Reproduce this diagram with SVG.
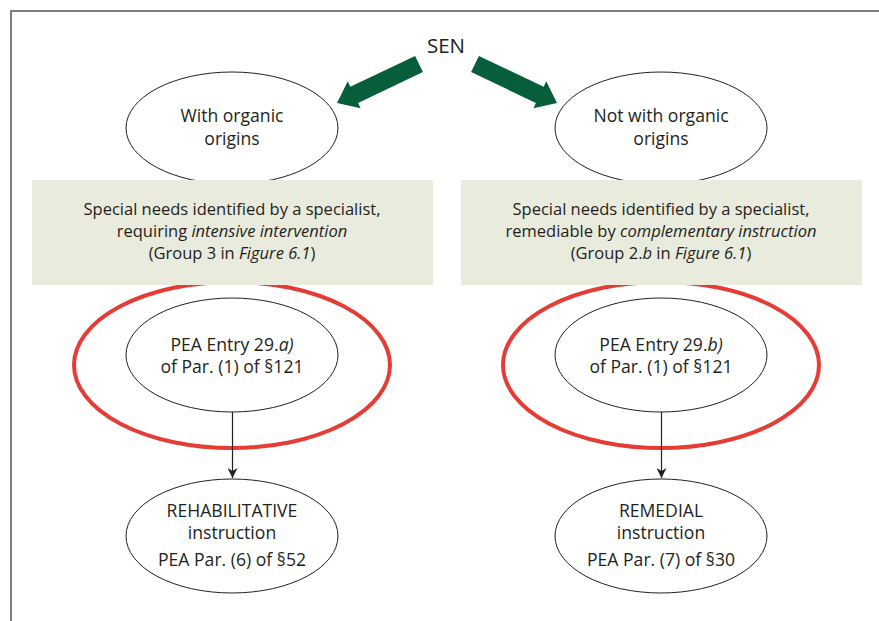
<svg xmlns="http://www.w3.org/2000/svg" width="879" height="621" viewBox="0 0 879 621">
<defs>
<style>
text{font-family:"Open Sans","Liberation Sans",sans-serif;fill:#231f20;text-anchor:middle}
.e{font-size:17.6px}
.b{font-size:16.5px}
.n{fill:#fff;stroke:#231f20;stroke-width:1}
.red{fill:none;stroke:#e63c36;stroke-width:4}
.box{fill:#e9ebdd}
.g{fill:#075e3b}
.c{stroke:#231f20;stroke-width:1.2;fill:none}
</style>
<marker id="ah" viewBox="0 0 10 10" refX="10" refY="5" markerWidth="10" markerHeight="10" markerUnits="userSpaceOnUse" orient="auto">
<path d="M0,0 L10,5 L0,10 L3,5 Z" fill="#231f20"/>
</marker>
</defs>
<rect width="879" height="621" fill="#fff"/>
<path d="M11,621 V11 H879" fill="none" stroke="#555" stroke-width="1.5"/>

<g id="sen"><text x="446" y="53" style="font-size:20.5px">SEN</text></g>

<g id="arrows-green">
<polygon class="g" points="415.1,55.9 350.3,86.7 347.8,81.3 337,103 360.6,108.3 358.1,102.9 422.9,72.1"/>
<polygon class="g" points="478.9,55.9 543.7,86.7 546.2,81.3 557,103 533.4,108.3 535.9,102.9 471.1,72.1"/>
</g>

<g id="organic">
<ellipse class="n" cx="232" cy="128" rx="106" ry="56"/>
<text class="e" x="232" y="122">With organic</text>
<text class="e" x="232" y="145">origins</text>
</g>
<g id="not-organic">
<ellipse class="n" cx="661" cy="128" rx="106" ry="56"/>
<text class="e" x="661" y="122">Not with organic</text>
<text class="e" x="661" y="145">origins</text>
</g>

<g id="pea-a">
<ellipse class="red" cx="232" cy="365" rx="158" ry="83"/>
<ellipse class="n" cx="232" cy="355" rx="106" ry="57"/>
<text class="e" x="232" y="351">PEA Entry 29.<tspan font-style="italic">a)</tspan></text>
<text class="e" x="232" y="373">of Par. (1) of §121</text>
</g>
<g id="pea-b">
<ellipse class="red" cx="661" cy="365" rx="158" ry="83"/>
<ellipse class="n" cx="661" cy="355" rx="106" ry="57"/>
<text class="e" x="661" y="351">PEA Entry 29.<tspan font-style="italic">b)</tspan></text>
<text class="e" x="661" y="373">of Par. (1) of §121</text>
</g>

<g id="box-left">
<rect class="box" x="32" y="180" width="401" height="105"/>
<text class="b" x="232" y="215">Special needs identified by a specialist,</text>
<text class="b" x="232" y="237">requiring <tspan font-style="italic">intensive intervention</tspan></text>
<text class="b" x="232" y="259">(Group 3 in <tspan font-style="italic">Figure 6.1</tspan>)</text>
</g>
<g id="box-right">
<rect class="box" x="461" y="180" width="401" height="105"/>
<text class="b" x="661" y="215">Special needs identified by a specialist,</text>
<text class="b" x="661" y="237">remediable by <tspan font-style="italic">complementary instruction</tspan></text>
<text class="b" x="661" y="259">(Group 2.<tspan font-style="italic">b</tspan> in <tspan font-style="italic">Figure 6.1</tspan>)</text>
</g>

<g id="rehab">
<ellipse class="n" cx="232" cy="536" rx="106" ry="57"/>
<text class="e" x="232" y="517">REHABILITATIVE</text>
<text class="e" x="232" y="539">instruction</text>
<text class="e" x="232" y="566">PEA Par. (6) of §52</text>
</g>
<g id="remedial">
<ellipse class="n" cx="661" cy="536" rx="106" ry="57"/>
<text class="e" x="661" y="517">REMEDIAL</text>
<text class="e" x="661" y="539">instruction</text>
<text class="e" x="661" y="566">PEA Par. (7) of §30</text>
</g>

<g id="connectors">
<line class="c" x1="232.5" y1="412" x2="232.5" y2="478" marker-end="url(#ah)"/>
<line class="c" x1="661.5" y1="412" x2="661.5" y2="478" marker-end="url(#ah)"/>
</g>
</svg>
